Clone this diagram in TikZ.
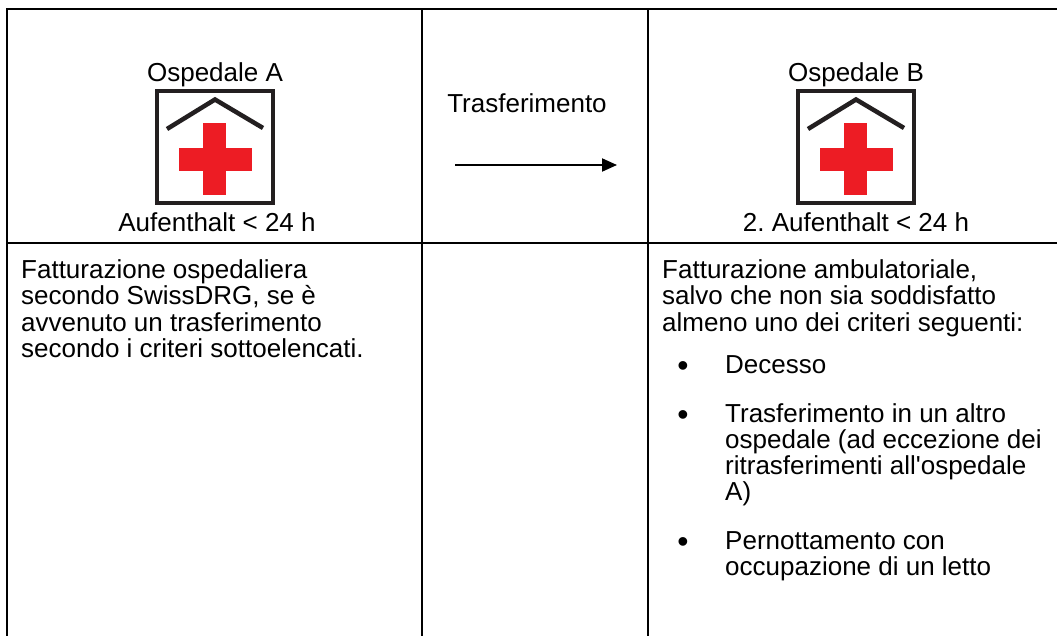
\documentclass[tikz,border=0pt]{standalone}
\usepackage{fontspec}
\setmainfont{Liberation Sans}
\usetikzlibrary{arrows.meta}
\definecolor{iconred}{HTML}{ED1C24}
\definecolor{icondark}{HTML}{231F20}
\frenchspacing
\tikzset{
  grid/.style={line width=2.6pt, black},
  head/.style={inner sep=0pt, anchor=base, font=\fontsize{26}{30}\selectfont},
  body/.style={inner sep=0pt, anchor=base west, font=\fontsize{26}{30}\selectfont},
  bul/.style={inner sep=0pt, anchor=base, font=\fontsize{32}{36}\selectfont},
  iconbox/.style={line width=4pt, draw=icondark, fill=white},
  roof/.style={line width=4.5pt, draw=icondark},
  cross/.style={fill=iconred},
  transfer/.style={line width=2pt, -{Triangle[length=15pt,width=13pt]}}
}
\newcommand{\hospicon}[1]{%
  \begin{scope}[shift={(#1,0)}]
    \draw[iconbox] (157,91) rectangle (273,203);
    \draw[roof] (167,129) -- (215,99.5) -- (263,128);
    \fill[cross] (203,123) rectangle (226,195);
    \fill[cross] (179,148) rectangle (252,171);
  \end{scope}}
\begin{document}
\begin{tikzpicture}[x=1pt,y=-1pt]
\useasboundingbox (0,0) rectangle (1057,636);
% table
\draw[grid] (7,636) -- (7,9) -- (1057,9);
\draw[grid] (422,9) -- (422,636);
\draw[grid] (648,9) -- (648,636);
\draw[grid] (7,243) -- (1057,243);
% top row
\node[head] (ospA) at (215,82) {Ospedale A};
\hospicon{0}
\node[head] (aufA) at (217,232) {Aufenthalt < 24 h};
\node[head] (trans) at (527,113) {Trasferimento};
\coordinate (arrS) at (455,165);
\coordinate (arrE) at (617,165);
\draw[transfer] (arrS) -- (arrE);
\node[head] (ospB) at (856,82) {Ospedale B};
\hospicon{641}
\node[head] (aufB) at (856,232) {2. Aufenthalt < 24 h};
% bottom left
\node[body] (l1) at (21,279) {Fatturazione ospedaliera};
\node[body] (l2) at (21,305) {secondo SwissDRG, se è};
\node[body] (l3) at (21,331) {avvenuto un trasferimento};
\node[body] (l4) at (21,357) {secondo i criteri sottoelencati.};
% bottom right
\node[body] (r1) at (662,279) {Fatturazione ambulatoriale,};
\node[body] (r2) at (662,305) {salvo che non sia soddisfatto};
\node[body] (r3) at (662,331) {almeno uno dei criteri seguenti:};
\node[bul] (b1) at (683,376) {•};
\node[body] (r4) at (725,373) {Decesso};
\node[bul] (b2) at (683,425) {•};
\node[body] (r5) at (725,422) {Trasferimento in un altro};
\node[body] (r6) at (725,448) {ospedale (ad eccezione dei};
\node[body] (r7) at (725,474) {ritrasferimenti all\textquotesingle ospedale};
\node[body] (r8) at (725,500) {A)};
\node[bul] (b3) at (683,552) {•};
\node[body] (r9) at (725,549) {Pernottamento con};
\node[body] (r10) at (725,575) {occupazione di un letto};
\end{tikzpicture}
\end{document}
